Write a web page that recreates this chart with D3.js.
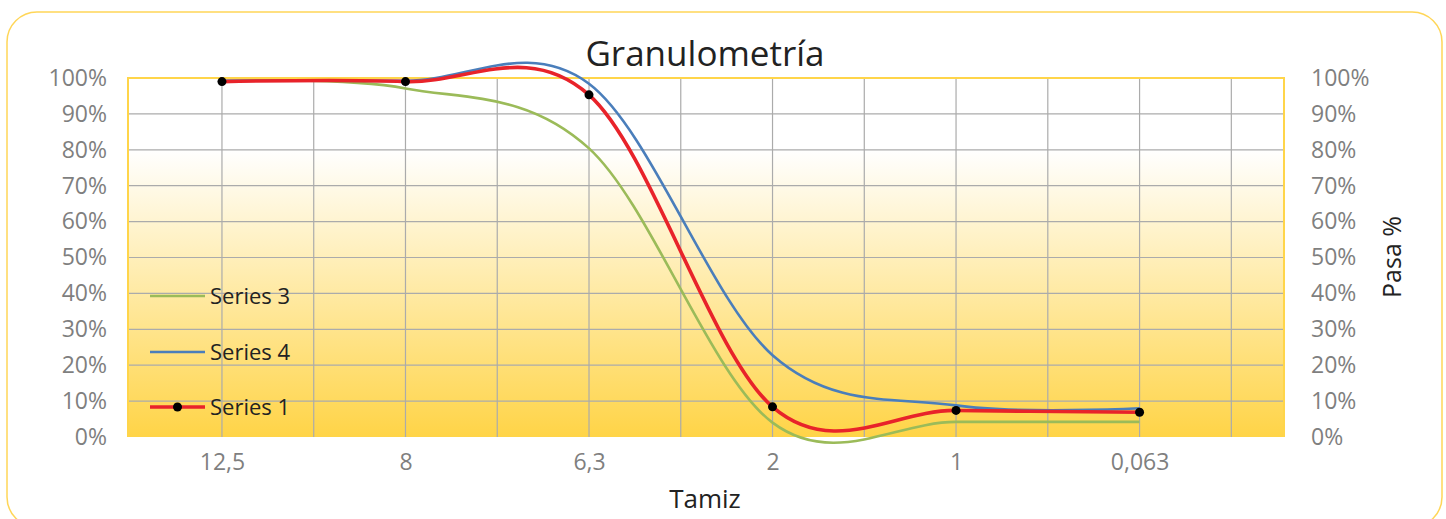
<!DOCTYPE html>
<html>
<head>
<meta charset="utf-8">
<script src="https://cdn.jsdelivr.net/npm/d3@7"></script>
<style>
  body { margin: 0; background: #fff; }
  svg text { font-family: "Open Sans", sans-serif; }
</style>
</head>
<body>
<svg id="chart" width="1446" height="519"></svg>
<script>
// tamiz categories and % passing for each series
var categories = ["12,5", "8", "6,3", "2", "1", "0,063"];
var series1 = [99.0, 99.0, 95.3, 8.4, 7.4, 6.9];
var series3 = [99.2, 97.1, 80.4, 4.0, 4.2, 4.2];
var series4 = [99.2, 99.2, 98.4, 22.8, 8.8, 8.0];
var yTicks = [0, 10, 20, 30, 40, 50, 60, 70, 80, 90, 100];

var svg = d3.select("#chart");
var margin = {left: 128, right: 162, top: 78, bottom: 82};
var width = 1446 - margin.left - margin.right,
    height = 519 - margin.top - margin.bottom;

// card frame
svg.append("rect")
  .attr("x", 7).attr("y", 12)
  .attr("width", 1435).attr("height", 515)
  .attr("rx", 30).attr("ry", 30)
  .attr("fill", "#fff")
  .attr("stroke", "#FFD658")
  .attr("stroke-width", 1.5);

var defs = svg.append("defs");
var grad = defs.append("linearGradient")
  .attr("id", "bg").attr("x1", 0).attr("y1", 0).attr("x2", 0).attr("y2", 1);
grad.append("stop").attr("offset", "0%").attr("stop-color", "#ffffff");
grad.append("stop").attr("offset", "20%").attr("stop-color", "#ffffff");
grad.append("stop").attr("offset", "100%").attr("stop-color", "#FFD447");

var g = svg.append("g").attr("transform", "translate(" + margin.left + "," + margin.top + ")");

var x = d3.scaleLinear().domain([-0.512, 5.787]).range([0, width]);
var y = d3.scaleLinear().domain([0, 100]).range([height, 0]);

g.append("rect")
  .attr("width", width).attr("height", height)
  .attr("fill", "url(#bg)");

// gridlines
g.selectAll(".hgrid").data(yTicks.slice(1)).enter().append("line")
  .attr("x1", 0).attr("x2", width)
  .attr("y1", function(d){ return y(d); }).attr("y2", function(d){ return y(d); })
  .attr("stroke", "#ababab").attr("stroke-width", 1.2);

var vgrid = d3.range(0, 6, 0.5);
g.selectAll(".vgrid").data(vgrid).enter().append("line")
  .attr("x1", function(d){ return x(d); }).attr("x2", function(d){ return x(d); })
  .attr("y1", 0).attr("y2", height)
  .attr("stroke", "#ababab").attr("stroke-width", 1.2);

// yellow plot border (top, left, right)
g.append("path")
  .attr("d", "M0," + height + "V0H" + width + "V" + height)
  .attr("fill", "none")
  .attr("stroke", "#FFD54A")
  .attr("stroke-width", 2);

// axes
var yLeft = d3.axisLeft(y).tickValues(yTicks).tickFormat(function(d){ return d + "%"; }).tickSize(0).tickPadding(21);
var yRight = d3.axisRight(y).tickValues(yTicks).tickFormat(function(d){ return d + "%"; }).tickSize(0).tickPadding(27);
var xAxis = d3.axisBottom(x).tickValues(d3.range(categories.length))
  .tickFormat(function(i){ return categories[i]; }).tickSize(0).tickPadding(17);

function styleAxis(sel) {
  sel.select(".domain").remove();
  sel.selectAll("text").attr("fill", "#7f7f7f").style("font-size", "23px");
}
g.append("g").call(yLeft).call(styleAxis);
g.append("g").attr("transform", "translate(" + width + ",0)").call(yRight).call(styleAxis);
g.append("g").attr("transform", "translate(0," + height + ")").call(xAxis).call(styleAxis);

// lines, excel-like smoothing
var line = d3.line()
  .x(function(d, i){ return x(i); })
  .y(function(d){ return y(d); })
  .curve(d3.curveCatmullRom.alpha(0));

var lines = [
  {name: "Series 3", values: series3, color: "#9BBB59", w: 2.6},
  {name: "Series 4", values: series4, color: "#4A7EBB", w: 2.6},
  {name: "Series 1", values: series1, color: "#E8232A", w: 3.6, markers: true}
];

lines.forEach(function(s){
  g.append("path")
    .datum(s.values)
    .attr("d", line)
    .attr("fill", "none")
    .attr("stroke", s.color)
    .attr("stroke-width", s.w);
});

g.selectAll(".dot").data(series1).enter().append("circle")
  .attr("cx", function(d, i){ return x(i); })
  .attr("cy", function(d){ return y(d); })
  .attr("r", 4.5)
  .attr("fill", "#000");

// legend
var legend = svg.append("g").attr("transform", "translate(150,0)");
var legendY = [296, 352, 407];
lines.forEach(function(s, i){
  var row = legend.append("g").attr("transform", "translate(0," + legendY[i] + ")");
  row.append("line").attr("x1", 0).attr("x2", 55)
    .attr("stroke", s.color).attr("stroke-width", s.w);
  if (s.markers) row.append("circle").attr("cx", 27.5).attr("r", 4.5).attr("fill", "#000");
  row.append("text").attr("x", 60).attr("y", 8)
    .attr("fill", "#222").style("font-size", "22px")
    .text(s.name);
});

// titles
svg.append("text").attr("x", 705).attr("y", 66)
  .attr("text-anchor", "middle").attr("fill", "#222")
  .style("font-size", "35px").text("Granulometría");

svg.append("text").attr("x", 705).attr("y", 508)
  .attr("text-anchor", "middle").attr("fill", "#222")
  .style("font-size", "26px").text("Tamiz");

svg.append("text")
  .attr("transform", "translate(1401,257) rotate(-90)")
  .attr("text-anchor", "middle").attr("fill", "#222")
  .style("font-size", "25px").text("Pasa %");
</script>
</body>
</html>
